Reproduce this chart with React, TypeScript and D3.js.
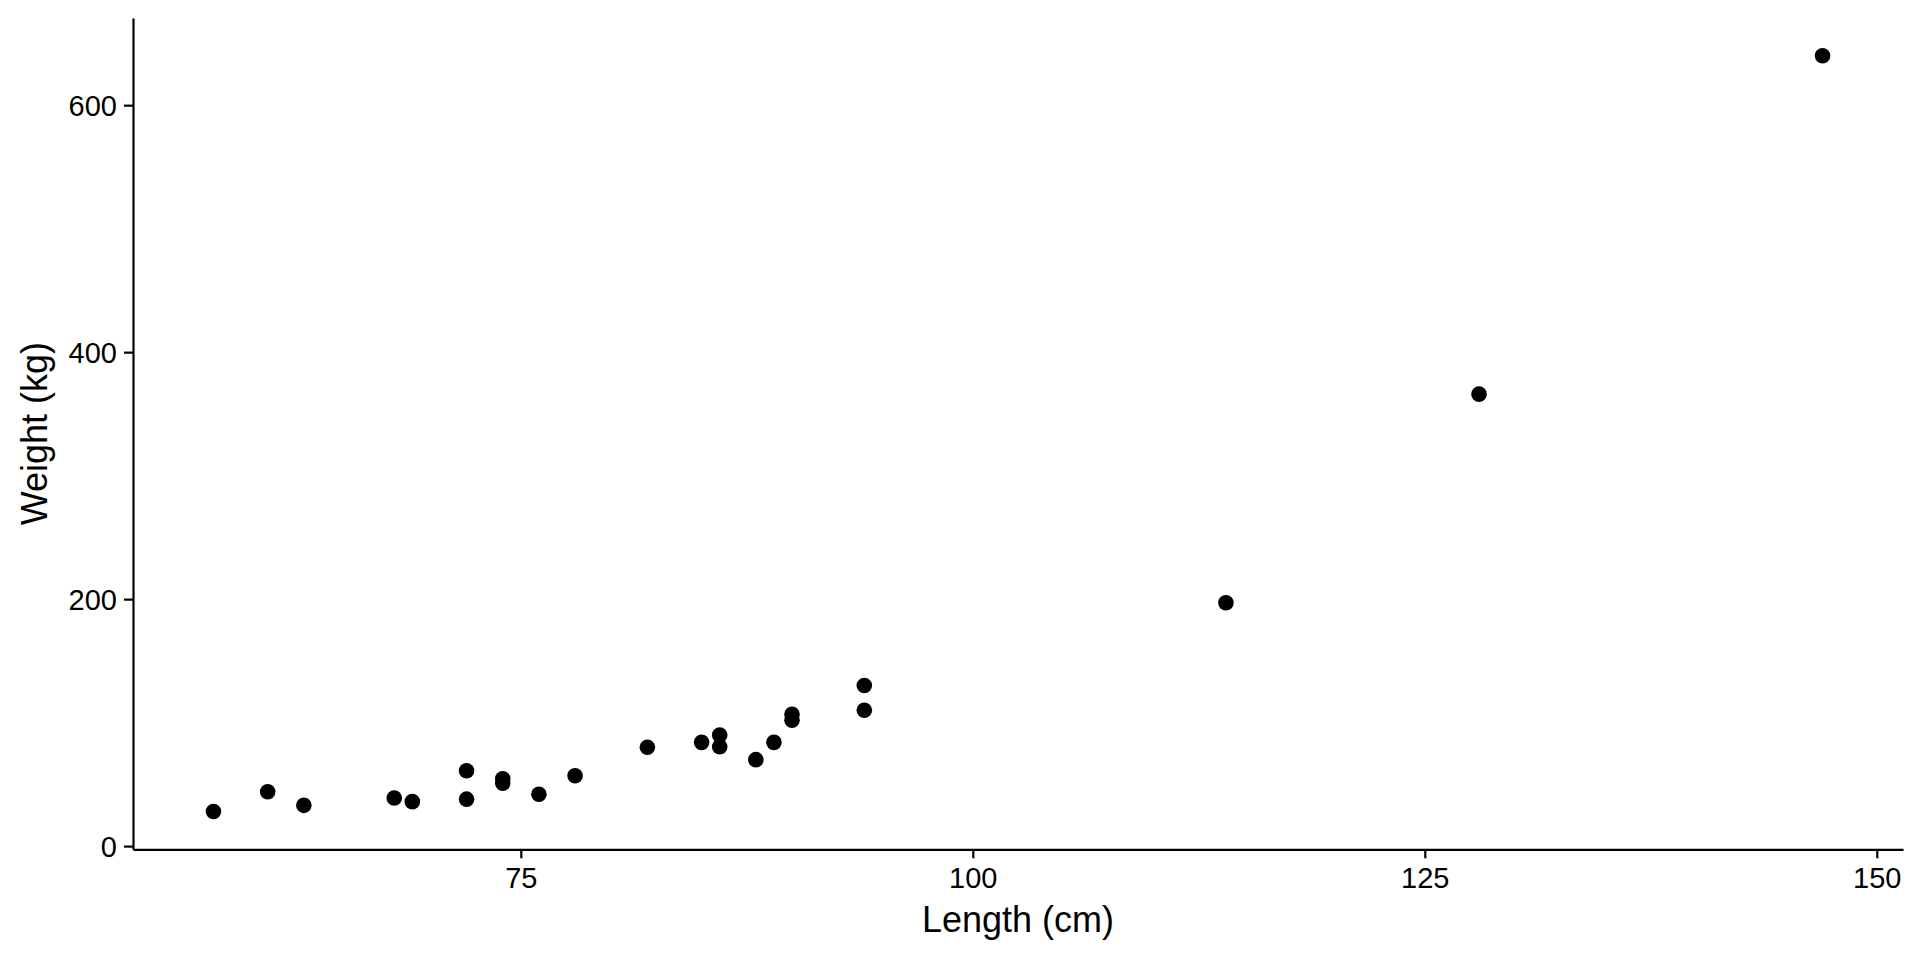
import React, { useEffect, useRef } from "react";
import * as d3 from "d3";

const lengths = [58, 61, 63, 68, 69, 72, 72, 74, 74, 76, 78, 82, 85, 86, 86, 88, 89, 90, 90, 94, 94, 114, 128, 147];
const weights = [28, 44, 33, 39, 36, 61, 38, 54.5, 51, 42, 57, 80, 84, 90, 80.4, 70, 84, 106.8, 102, 130, 110, 197, 366, 640];
const xTicks = [75, 100, 125, 150];
const yTicks = [0, 200, 400, 600];
const xTitle = "Length (cm)";
const yTitle = "Weight (kg)";

const W = 1920;
const H = 960;
const left = 133;
const right = 1903;
const top = 18;
const bottom = 849.3;
const FONT = "'Liberation Sans', Arial, Helvetica, sans-serif";

export default function App() {
  const ref = useRef<SVGSVGElement>(null);

  useEffect(() => {
    const svg = d3.select(ref.current);
    svg.selectAll("*").remove();

    const xe = d3.extent(lengths) as [number, number];
    const ye = d3.extent(weights) as [number, number];
    const xPad = (xe[1] - xe[0]) * 0.05;
    const yPad = (ye[1] - ye[0]) * 0.05;
    const x = d3.scaleLinear().domain([xe[0] - xPad, xe[1] + xPad]).range([left, right]);
    const y = d3.scaleLinear().domain([ye[0] - yPad, ye[1] + yPad]).range([bottom, top]);

    const data = lengths.map((l, i) => ({ l, w: weights[i] }));

    svg
      .append("g")
      .selectAll("circle")
      .data(data)
      .join("circle")
      .attr("cx", (d) => x(d.l))
      .attr("cy", (d) => y(d.w))
      .attr("r", 7.8)
      .attr("fill", "#000");

    const xAxis = d3.axisBottom(x).tickValues(xTicks).tickSize(9).tickPadding(6).tickSizeOuter(0);
    const gx = svg.append("g").attr("transform", `translate(0,${bottom})`).call(xAxis);
    gx.select(".domain").attr("stroke", "#000").attr("stroke-width", 2.2);
    gx.selectAll(".tick line").attr("stroke", "#000").attr("stroke-width", 2.2);
    gx.selectAll(".tick text")
      .attr("fill", "#000")
      .style("font-family", FONT)
      .style("font-size", "29px")
      .attr("dy", "0.82em");

    const yAxis = d3.axisLeft(y).tickValues(yTicks).tickSize(9).tickPadding(7).tickSizeOuter(0);
    const gy = svg.append("g").attr("transform", `translate(${left},0)`).call(yAxis);
    gy.select(".domain").attr("stroke", "#000").attr("stroke-width", 2.2);
    gy.selectAll(".tick line").attr("stroke", "#000").attr("stroke-width", 2.2);
    gy.selectAll(".tick text")
      .attr("fill", "#000")
      .style("font-family", FONT)
      .style("font-size", "29px")
      .attr("dy", "0.36em");

    svg
      .append("text")
      .attr("x", (left + right) / 2)
      .attr("y", 932)
      .attr("text-anchor", "middle")
      .style("font-family", FONT)
      .style("font-size", "36px")
      .attr("fill", "#000")
      .text(xTitle);

    svg
      .append("text")
      .attr("transform", `translate(46.5,${(top + bottom) / 2}) rotate(-90)`)
      .attr("text-anchor", "middle")
      .style("font-family", FONT)
      .style("font-size", "36px")
      .attr("fill", "#000")
      .text(yTitle);
  }, []);

  return (
    <svg
      ref={ref}
      width={W}
      height={H}
      style={{ position: "absolute", left: 0, top: 0, background: "#fff", display: "block" }}
    />
  );
}
